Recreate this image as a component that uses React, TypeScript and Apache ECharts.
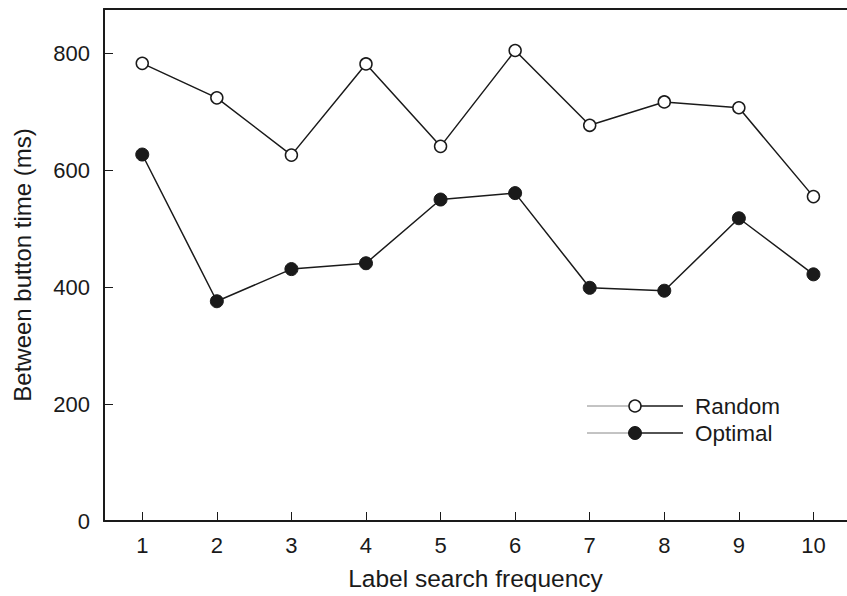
import React, { useEffect, useRef } from "react";
import * as echarts from "echarts";

const frequencies = [1, 2, 3, 4, 5, 6, 7, 8, 9, 10];
const randomTimes = [783, 724, 626, 782, 641, 805, 677, 717, 707, 555];
const optimalTimes = [627, 376, 431, 441, 550, 561, 399, 394, 518, 422];
const yTicks = [0, 200, 400, 600, 800];
const xTitle = "Label search frequency";
const yTitle = "Between button time (ms)";
const seriesNames = ["Random", "Optimal"];

const FONT = "Liberation Sans, Arial, Helvetica, sans-serif";

export default function App() {
  const ref = useRef<HTMLDivElement>(null);
  useEffect(() => {
    if (!ref.current) return;
    const chart = echarts.init(ref.current, undefined, { renderer: "svg" });
    const axisLine = { show: true, lineStyle: { color: "#1a1a1a", width: 2 } };
    chart.setOption({
      animation: false,
      backgroundColor: "#fff",
      textStyle: { fontFamily: FONT },
      grid: { left: 104, right: 0, top: 9, bottom: 73, containLabel: false },
      xAxis: [
        {
          type: "value",
          min: 0.487,
          max: 10.45,
          axisLine,
          splitLine: { show: false },
          axisTick: {
            show: true,
            inside: true,
            length: 9,
            customValues: frequencies,
            lineStyle: { color: "#1a1a1a", width: 1 },
          },
          axisLabel: {
            customValues: frequencies,
            color: "#1a1a1a",
            fontSize: 22,
            fontFamily: FONT,
            margin: 13,
          },
          name: xTitle,
          nameLocation: "middle",
          nameGap: 45,
          nameTextStyle: { color: "#1a1a1a", fontSize: 24.5, fontFamily: FONT },
        },
        {
          type: "value",
          position: "top",
          min: 0.487,
          max: 10.45,
          axisLine,
          axisTick: { show: false },
          axisLabel: { show: false },
          splitLine: { show: false },
        },
      ],
      yAxis: {
        type: "value",
        min: 0,
        max: 876,
        axisLine,
        splitLine: { show: false },
        axisTick: {
          show: true,
          inside: true,
          length: 9,
          customValues: yTicks,
          lineStyle: { color: "#1a1a1a", width: 1 },
        },
        axisLabel: {
          customValues: yTicks,
          color: "#1a1a1a",
          fontSize: 22,
          fontFamily: FONT,
          margin: 14,
        },
        name: yTitle,
        nameLocation: "middle",
        nameGap: 70,
        nameTextStyle: { color: "#1a1a1a", fontSize: 24, fontFamily: FONT },
      },
      series: [
        {
          name: seriesNames[0],
          type: "line",
          data: frequencies.map((f, i) => [f, randomTimes[i]]),
          symbol: "circle",
          symbolSize: 12,
          lineStyle: { color: "#1a1a1a", width: 1.5 },
          itemStyle: { color: "#fff", borderColor: "#1a1a1a", borderWidth: 1.5 },
          z: 3,
        },
        {
          name: seriesNames[1],
          type: "line",
          data: frequencies.map((f, i) => [f, optimalTimes[i]]),
          symbol: "circle",
          symbolSize: 13,
          lineStyle: { color: "#1a1a1a", width: 1.5 },
          itemStyle: { color: "#1a1a1a", borderColor: "#1a1a1a", borderWidth: 1 },
          z: 3,
        },
      ],
      graphic: [
        { type: "line", shape: { x1: 587, y1: 406, x2: 630, y2: 406 }, style: { stroke: "#888", lineWidth: 1 } },
        { type: "line", shape: { x1: 635, y1: 406, x2: 683, y2: 406 }, style: { stroke: "#1a1a1a", lineWidth: 1.5 } },
        { type: "circle", shape: { cx: 635, cy: 406, r: 6 }, style: { fill: "#fff", stroke: "#1a1a1a", lineWidth: 1.5 } },
        { type: "text", x: 695, y: 406, style: { text: seriesNames[0], fill: "#1a1a1a", font: `22.5px ${FONT}`, verticalAlign: "middle" } },
        { type: "line", shape: { x1: 587, y1: 433, x2: 630, y2: 433 }, style: { stroke: "#888", lineWidth: 1 } },
        { type: "line", shape: { x1: 635, y1: 433, x2: 683, y2: 433 }, style: { stroke: "#1a1a1a", lineWidth: 1.5 } },
        { type: "circle", shape: { cx: 635, cy: 433, r: 6.5 }, style: { fill: "#1a1a1a", stroke: "#1a1a1a", lineWidth: 1 } },
        { type: "text", x: 695, y: 433, style: { text: seriesNames[1], fill: "#1a1a1a", font: `22.5px ${FONT}`, verticalAlign: "middle" } },
      ],
    });
    return () => chart.dispose();
  }, []);
  return <div ref={ref} style={{ width: 847, height: 596, position: "fixed", left: 0, top: 0 }} />;
}
